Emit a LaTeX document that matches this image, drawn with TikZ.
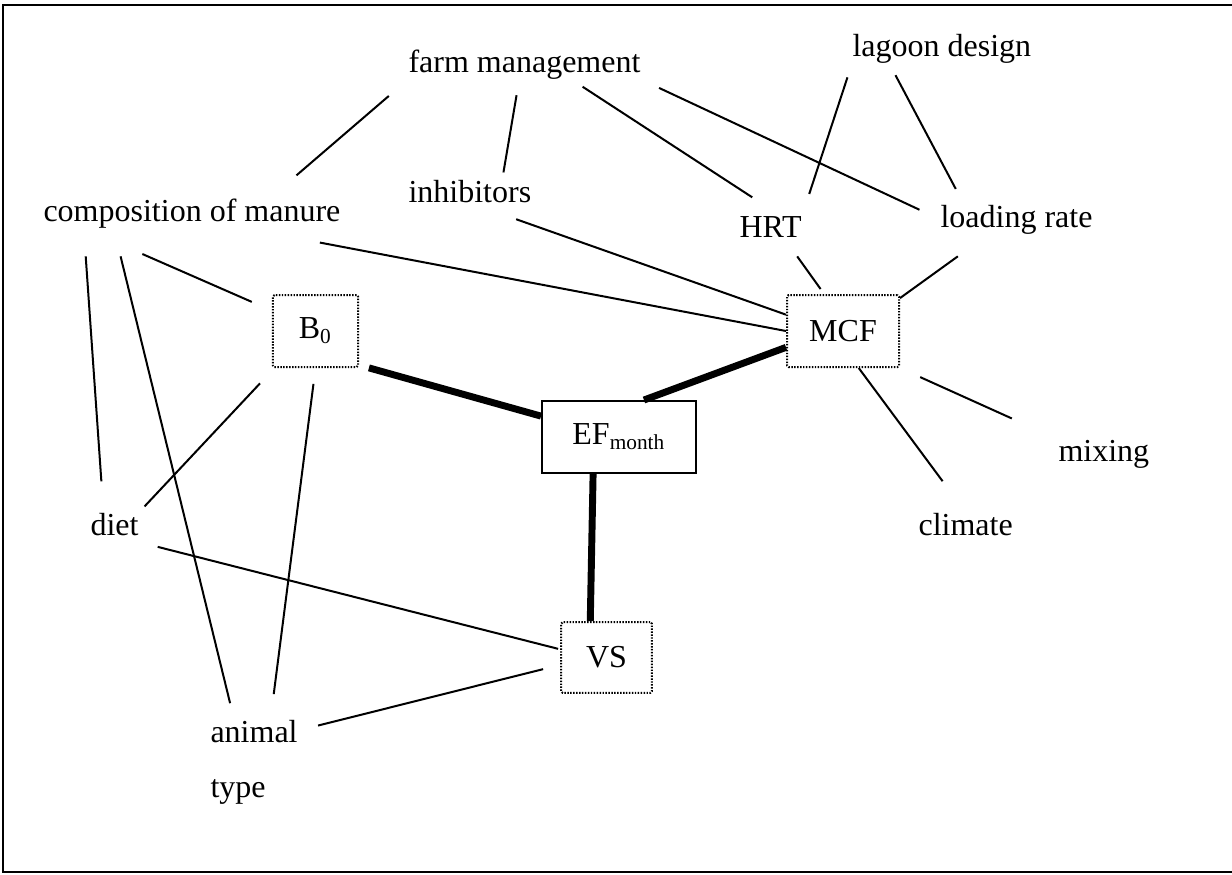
\documentclass[tikz,border=0pt]{standalone}
\usepackage{fontspec}
\setmainfont{Liberation Serif}
\usetikzlibrary{positioning}

\tikzset{
  lbl/.style={inner sep=0pt,font=\fontsize{12pt}{14pt}\selectfont},
  factor/.style={draw,dash pattern=on 0.55pt off 0.55pt,line width=0.75pt,
                 rounded corners=0.6pt,inner sep=0pt,font=\fontsize{12pt}{14pt}\selectfont},
  result/.style={draw,line width=0.75pt,inner sep=0pt,font=\fontsize{12pt}{14pt}\selectfont},
  link/.style={line width=0.75pt},
  main/.style={line width=2.6pt},
}

\begin{document}
\begin{tikzpicture}[x=0.375pt,y=-0.375pt]
  \useasboundingbox (0,0) rectangle (1232,874);

  % --- marco
  \draw[line width=0.8pt] (1240,5) -- (3,5) -- (3,872) -- (1240,872);

  % --- factores
  \node[lbl,anchor=base west] (lagoon)  at (852,56)  {lagoon design};
  \node[lbl,anchor=base west] (farm)    at (408,72)  {farm management};
  \node[lbl,anchor=base west] (comp)    at (43,221)  {composition of manure};
  \node[lbl,anchor=base west] (inhib)   at (408,202) {inhibitors};
  \node[lbl,anchor=base west] (hrt)     at (739,237) {HRT};
  \node[lbl,anchor=base west] (load)    at (940,227) {loading rate};
  \node[lbl,anchor=base west] (diet)    at (90,535)  {diet};
  \node[lbl,anchor=base west] (climate) at (918,535) {climate};
  \node[lbl,anchor=base west] (mixing)  at (1058,461) {mixing};
  \node[lbl,anchor=north west,align=left] (animal) at (210,720) {animal\\[6.6pt]type};

  % --- parametros
  \node[factor,minimum width=32pt,minimum height=27pt]   (b0)  at (315.5,331) {B\textsubscript{0}};
  \node[factor,minimum width=42pt,minimum height=27pt]   (mcf) at (843,331)   {MCF};
  \node[factor,minimum width=34pt,minimum height=26.6pt] (vs)  at (606.5,657.5) {VS};
  \node[result,minimum width=57.75pt,minimum height=27pt] (ef) at (619,437)   {EF\textsubscript{month}};

  % --- relaciones principales
  \draw[main,shorten <=3.8pt] (b0.322) -- (ef.165);
  \draw[main] (ef.56) -- (mcf.196);
  \draw[main] (ef.235) -- (vs.114);

  % --- relaciones secundarias
  \draw[link,shorten <=13pt,shorten >=9.5pt] (comp.11) -- (farm.south west);
  \draw[link,shorten <=2.6pt,shorten >=6pt] (inhib.20) -- (farm.251);
  \draw[link,shorten <=5pt,shorten >=12.5pt] (farm.342) -- (hrt.49);
  \draw[link,shorten <=7.5pt,shorten >=8.5pt] (farm.south east) -- (load.west);
  \draw[link,shorten <=5.5pt,shorten >=8.5pt] (lagoon.south west) -- (hrt.north east);
  \draw[link,shorten <=5pt,shorten >=6.5pt] (lagoon.196) -- (load.164);
  \draw[link,shorten <=24pt,shorten >=8.2pt] (comp.188) -- (b0.155);
  \draw[link,shorten <=10.5pt,shorten >=11.6pt] (comp.188) -- (diet.133);
  \draw[link,shorten <=10.8pt,shorten >=6.5pt] (comp.191) -- (animal.115);
  \draw[link,shorten <=28.6pt] (comp.344) -- (mcf.west);
  \draw[link,shorten <=18.4pt] (inhib.south) -- (mcf.164);
  \draw[link,shorten <=8.7pt,shorten >=2.3pt] (hrt.320) -- (mcf.117);
  \draw[link,shorten <=14pt] (load.208) -- (mcf.30);
  \draw[link,shorten <=8.3pt,shorten >=19pt] (mcf.south east) -- (mixing.north west);
  \draw[link,shorten >=14.5pt] (mcf.293) -- (climate.north);
  \draw[link,shorten <=7.9pt,shorten >=3pt] (b0.222) -- (diet.north east);
  \draw[link,shorten <=6pt,shorten >=9.8pt] (b0.south) -- (animal.69);
  \draw[link,shorten <=16.7pt,shorten >=0.8pt] (diet.south) -- (vs.170);
  \draw[link,shorten <=7.7pt,shorten >=6.6pt] (animal.36) -- (vs.189);
\end{tikzpicture}
\end{document}
